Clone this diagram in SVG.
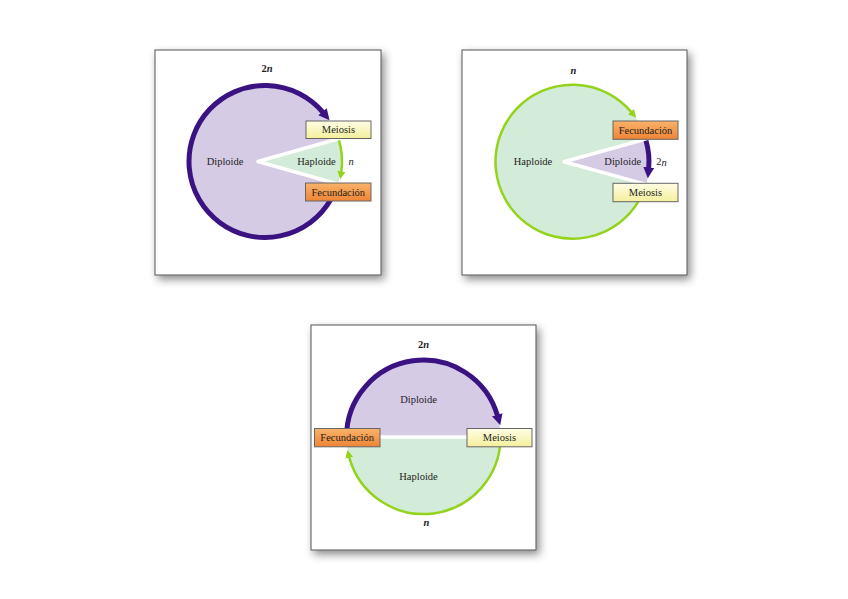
<svg xmlns="http://www.w3.org/2000/svg" width="848" height="599" viewBox="0 0 848 599">
<style>
.frame{fill:#fff;stroke:#555;stroke-width:1;filter:url(#sh)}
.pf{fill:#d6cbe5}
.gf{fill:#d3ebd9}
.ps{fill:none;stroke:#3a1282;stroke-width:5}
.gs{fill:none;stroke:#94d31b;stroke-width:2.5}
.wl{fill:none;stroke:#fff;stroke-width:3.5;stroke-linejoin:round}
.t{font-family:"Liberation Serif",serif;font-size:10.5px;fill:#1e1e1e;text-anchor:middle;dominant-baseline:central}
.b{font-weight:bold}
.i{font-style:italic}
.mei{fill:url(#gy);stroke:#666;stroke-width:1}
.fec{fill:url(#go);stroke:#666;stroke-width:1}
</style>
<defs>
<filter id="sh" x="-10%" y="-10%" width="125%" height="125%">
<feDropShadow dx="3" dy="4" stdDeviation="4" flood-color="#000" flood-opacity="0.45"/>
</filter>
<linearGradient id="gy" x1="0" y1="0" x2="0" y2="1"><stop offset="0" stop-color="#fffde6"/><stop offset="1" stop-color="#f4ef9c"/></linearGradient>
<linearGradient id="go" x1="0" y1="0" x2="0" y2="1"><stop offset="0" stop-color="#f8b36a"/><stop offset="1" stop-color="#ef8435"/></linearGradient>
<marker id="ap" viewBox="0 0 10 10" refX="1" refY="5" markerWidth="11" markerHeight="11" markerUnits="userSpaceOnUse" orient="auto"><path d="M0,0 L10,5 L0,10 Z" fill="#3a1282"/></marker>
<marker id="ag" viewBox="0 0 10 10" refX="1" refY="5" markerWidth="8" markerHeight="8" markerUnits="userSpaceOnUse" orient="auto"><path d="M0,0 L10,5 L0,10 Z" fill="#94d31b"/></marker>
</defs>

<g id="panel1">
<rect class="frame" x="155" y="50" width="226" height="225"/>
<circle class="pf" cx="265" cy="161.5" r="76"/>
<path class="gf" d="M258,161.5 L337.6,139 A76,76 0 0 1 337.6,184 Z"/>
<polyline class="wl" points="337.6,139 258,161.5 337.6,184"/>
<g id="p1-connectors">
<path class="ps" d="M330.8,199.5 A76,76 0 1 1 323.2,112.6" marker-end="url(#ap)"/>
<path class="gs" d="M339,140.3 A77,77 0 0 1 341.3,172.2" marker-end="url(#ag)"/>
</g>
<text class="t b" x="267" y="68">2<tspan class="i">n</tspan></text>
<text class="t" x="225" y="161.5">Diploide</text>
<text class="t" x="316.5" y="161.5">Haploide</text>
<text class="t i" x="351" y="161">n</text>
<g id="p1-meiosis"><rect class="mei" x="306" y="121" width="65" height="17.5"/><text class="t" x="338.5" y="129.8">Meiosis</text></g>
<g id="p1-fecundacion"><rect class="fec" x="305.5" y="183" width="65.5" height="18"/><text class="t" x="338.3" y="192">Fecundación</text></g>
</g>

<g id="panel2">
<rect class="frame" x="462" y="50" width="225" height="225"/>
<circle class="gf" cx="572.5" cy="161.7" r="77"/>
<path class="pf" d="M564,161.7 L646.1,139 A77,77 0 0 1 646.1,184.4 Z"/>
<polyline class="wl" points="646.1,139 564,161.7 646.1,184.4"/>
<g id="p2-connectors">
<path class="gs" d="M639.2,200.2 A77,77 0 1 1 631.5,112.2" marker-end="url(#ag)"/>
<path class="ps" d="M646,140.6 A76.5,76.5 0 0 1 648.7,168.4" marker-end="url(#ap)"/>
</g>
<text class="t b i" x="573.5" y="70">n</text>
<text class="t" x="533" y="161.7">Haploide</text>
<text class="t" x="622.7" y="161.7">Diploide</text>
<text class="t" x="661.5" y="161.7">2<tspan class="i">n</tspan></text>
<g id="p2-fecundacion"><rect class="fec" x="613" y="121" width="65" height="18.3"/><text class="t" x="645.5" y="130.2">Fecundación</text></g>
<g id="p2-meiosis"><rect class="mei" x="613" y="183.3" width="65" height="18.4"/><text class="t" x="645.5" y="192.5">Meiosis</text></g>
</g>

<g id="panel3">
<rect class="frame" x="311" y="325" width="225" height="225"/>
<path class="pf" d="M346.5,437 A77,77 0 0 1 500.5,437 Z"/>
<path class="gf" d="M500.5,437 A77,77 0 0 1 346.5,437 Z"/>
<line class="wl" x1="346.5" y1="437" x2="500.5" y2="437" stroke-width="3"/>
<g id="p3-connectors">
<path class="ps" d="M346.5,437 A77,77 0 0 1 497.5,415.8" marker-end="url(#ap)"/>
<path class="gs" d="M500.5,437 A77,77 0 0 1 349.1,456.9" marker-end="url(#ag)"/>
</g>
<text class="t b" x="423.5" y="344">2<tspan class="i">n</tspan></text>
<text class="t" x="418.5" y="399">Diploide</text>
<text class="t" x="418.5" y="476">Haploide</text>
<text class="t b i" x="426.5" y="522">n</text>
<g id="p3-fecundacion"><rect class="fec" x="314.5" y="428.5" width="65.5" height="18.3"/><text class="t" x="347.2" y="437.6">Fecundación</text></g>
<g id="p3-meiosis"><rect class="mei" x="467" y="428.5" width="65" height="18.3"/><text class="t" x="499.5" y="437.6">Meiosis</text></g>
</g>
</svg>
